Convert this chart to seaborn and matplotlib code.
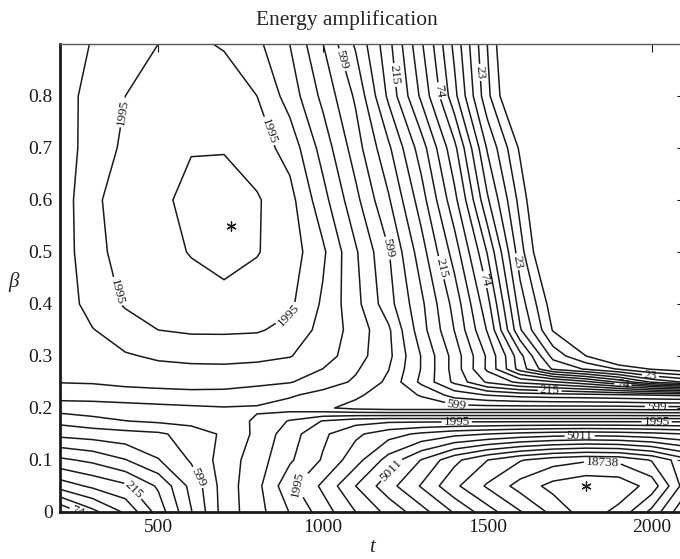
import numpy as np
import matplotlib
matplotlib.use("Agg")
import matplotlib.pyplot as plt
import seaborn as sns

# Energy amplification over (t, beta) as log10 values
t = [200, 300, 400, 500, 600, 700, 800, 900, 1000, 1100,
     1200, 1300, 1400, 1500, 1600, 1700, 1800, 1900, 2000, 2100]
beta = [0, 0.05, 0.1, 0.15, 0.175, 0.2, 0.225, 0.25, 0.275, 0.3, 0.35,
        0.4, 0.5, 0.6, 0.7, 0.8, 0.9]

log_energy = [
    # beta = 0
    [1.75, 1.95, 2.12, 2.38, 2.66, 2.93, 3.05, 3.20, 3.35, 3.50, 3.63, 3.76, 3.90, 4.04, 4.17, 4.30, 4.42, 4.34, 4.15, 3.90],
    # 0.05
    [2.15, 2.24, 2.31, 2.46, 2.70, 2.93, 3.06, 3.27, 3.42, 3.60, 3.76, 3.90, 4.06, 4.19, 4.31, 4.40, 4.44, 4.43, 4.33, 4.04],
    # 0.1
    [2.42, 2.47, 2.55, 2.66, 2.79, 2.93, 3.04, 3.18, 3.31, 3.46, 3.64, 3.80, 3.96, 4.08, 4.17, 4.23, 4.26, 4.25, 4.17, 4.02],
    # 0.15
    [2.70, 2.72, 2.74, 2.76, 2.82, 2.90, 3.01, 3.15, 3.28, 3.38, 3.46, 3.52, 3.57, 3.60, 3.63, 3.65, 3.66, 3.65, 3.63, 3.60],
    # 0.175
    [2.81, 2.85, 2.88, 2.90, 2.92, 2.94, 3.00, 3.10, 3.20, 3.26, 3.28, 3.28, 3.28, 3.28, 3.28, 3.28, 3.28, 3.28, 3.28, 3.28],
    # 0.2
    [2.93, 2.94, 2.95, 2.96, 2.97, 2.98, 2.975, 2.94, 2.90, 2.85, 2.83, 2.83, 2.83, 2.83, 2.83, 2.83, 2.83, 2.83, 2.82, 2.82],
    # 0.225
    [3.03, 3.03, 3.04, 3.05, 3.06, 3.06, 3.04, 3.00, 2.95, 2.90, 2.83, 2.77, 2.62, 2.55, 2.51, 2.49, 2.48, 2.46, 2.44, 2.42],
    # 0.25
    [3.095, 3.10, 3.12, 3.13, 3.135, 3.13, 3.115, 3.097, 3.04, 2.97, 2.86, 2.64, 2.42, 2.20, 2.07, 2.00, 1.90, 1.75, 1.55, 1.45],
    # 0.275
    [3.10, 3.12, 3.15, 3.17, 3.178, 3.178, 3.168, 3.15, 3.09, 3.00, 2.885, 2.66, 2.40, 2.08, 1.72, 1.45, 1.35, 1.25, 1.15, 1.10],
    # 0.3
    [3.105, 3.14, 3.185, 3.21, 3.22, 3.225, 3.22, 3.20, 3.14, 3.03, 2.91, 2.66, 2.40, 2.083, 1.70, 1.325, 1.16, 0.95, 0.90, 0.90],
    # 0.35
    [3.12, 3.19, 3.255, 3.30, 3.315, 3.315, 3.31, 3.27, 3.16, 3.05, 2.90, 2.60, 2.33, 1.976, 1.475, 1.15, 0.90, 0.90, 0.90, 0.90],
    # 0.4
    [3.12, 3.245, 3.31, 3.345, 3.36, 3.365, 3.355, 3.32, 3.18, 3.02, 2.82, 2.579, 2.293, 1.908, 1.413, 1.10, 0.90, 0.90, 0.90, 0.90],
    # 0.5
    [3.13, 3.275, 3.33, 3.37, 3.405, 3.44, 3.405, 3.355, 3.215, 3.00, 2.785, 2.493, 2.165, 1.762, 1.301, 0.95, 0.90, 0.90, 0.90, 0.90],
    # 0.6
    [3.13, 3.285, 3.335, 3.38, 3.425, 3.435, 3.41, 3.335, 3.13, 2.912, 2.68, 2.385, 2.021, 1.582, 1.224, 0.90, 0.90, 0.90, 0.90, 0.90],
    # 0.7
    [3.14, 3.24, 3.32, 3.355, 3.395, 3.395, 3.35, 3.26, 3.05, 2.83, 2.576, 2.273, 1.90, 1.454, 1.14, 0.90, 0.90, 0.90, 0.90, 0.90],
    # 0.8
    [3.15, 3.23, 3.30, 3.34, 3.36, 3.36, 3.30, 3.15, 2.96, 2.76, 2.42, 2.075, 1.70, 1.29, 0.95, 0.90, 0.90, 0.90, 0.90, 0.90],
    # 0.9
    [3.15, 3.20, 3.255, 3.30, 3.32, 3.29, 3.22, 3.09, 2.885, 2.65, 2.37, 2.00, 1.64, 1.26, 0.90, 0.90, 0.90, 0.90, 0.90, 0.90],
]

# contour levels (energy) and the ones that carry a label
levels = [14.4, 18.2, 23, 29.1, 36.7, 46.4, 58.6, 74, 96.6, 126.1, 164.7, 215,
          277.8, 358.9, 463.7, 599, 762, 969.2, 1233, 1568, 1995, 2512, 3162,
          3981, 5011, 6245, 7780, 9692, 12077, 15044, 18738, 23340]
labelled = [23, 74, 215, 599, 1995, 5011, 18738]
label_spots = {
    23: [(1467, 0.845), (1578, 0.48), (1995, 0.256)],
    74: [(1355, 0.81), (1486, 0.446), (265, 0.017), (1912, 0.242)],
    215: [(1213, 0.84), (1361, 0.47), (432, 0.046), (1690, 0.232)],
    599: [(1060, 0.87), (1213, 0.51), (625, 0.068), (1407, 0.209), (2015, 0.203)],
    1995: [(375, 0.77), (847, 0.735), (351, 0.42), (899, 0.375), (920, 0.055),
           (1407, 0.172), (2015, 0.172)],
    5011: [(1193, 0.09), (1781, 0.145)],
    18738: [(1850, 0.094)],
}

# maxima marked with an asterisk
peak_t = [720, 1800]
peak_beta = [0.55, 0.05]

sns.set_theme(style="white")
plt.rcParams["font.family"] = ["Liberation Serif", "DejaVu Serif"]

fig = plt.figure(figsize=(6.8, 5.59), dpi=100)
ax = fig.add_axes([59.6 / 680, 47 / 559, 625 / 680, 468 / 559])

plain = [np.log10(v) for v in levels if v not in labelled]
marked = [np.log10(v) for v in labelled]
ax.contour(t, beta, log_energy, levels=plain, colors="k", linewidths=1.1)
cs = ax.contour(t, beta, log_energy, levels=marked, colors="k", linewidths=1.1)

spots = [p for lev in labelled for p in label_spots[lev]]
ax.clabel(cs, manual=spots, inline=True, inline_spacing=2, fontsize=9.5,
          fmt=lambda v: f"{10 ** v:.0f}")

sns.scatterplot(x=peak_t, y=peak_beta, marker=(6, 2, 0), s=45, color="k",
                edgecolor="k", linewidth=0.9, ax=ax, zorder=5)

ax.set_xlim(200, 2100)
ax.set_ylim(0, 0.9)
ax.set_xticks([500, 1000, 1500, 2000])
ax.set_yticks([0, 0.1, 0.2, 0.3, 0.4, 0.5, 0.6, 0.7, 0.8])
ax.set_yticklabels(["0", "0.1", "0.2", "0.3", "0.4", "0.5", "0.6", "0.7", "0.8"])
ax.tick_params(direction="in", length=6, width=0.8, top=True, right=True,
               labelsize=14, pad=5, colors="k")
for side in ["left", "bottom"]:
    ax.spines[side].set_linewidth(2.0)
    ax.spines[side].set_color("k")
for side in ["top", "right"]:
    ax.spines[side].set_linewidth(1.0)
    ax.spines[side].set_color("0.35")

fig.text(347 / 680, 1 - 25 / 559, "Energy amplification", ha="center",
         va="baseline", fontsize=15.5)
fig.text(372 / 680, 1 - 548 / 559, "t", ha="center", va="center", fontsize=15,
         style="italic")
fig.text(14 / 680, 1 - 282 / 559, "β", ha="center", va="center", fontsize=15,
         style="italic")

fig.savefig("out.png", dpi=100)
